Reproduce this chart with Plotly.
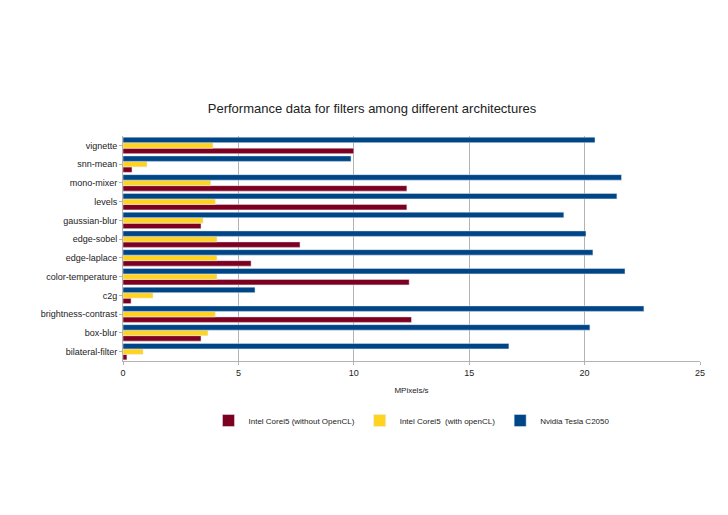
import plotly.graph_objects as go

filters = ["bilateral-filter", "box-blur", "brightness-contrast", "c2g", "color-temperature",
           "edge-laplace", "edge-sobel", "gaussian-blur", "levels", "mono-mixer", "snn-mean", "vignette"]
cpu_no_cl = [0.17, 3.38, 12.5, 0.35, 12.4, 5.55, 7.67, 3.38, 12.3, 12.3, 0.39, 10.0]
cpu_cl = [0.87, 3.68, 4.0, 1.3, 4.07, 4.07, 4.07, 3.47, 4.0, 3.8, 1.04, 3.9]
tesla = [16.72, 20.23, 22.57, 5.72, 21.75, 20.36, 20.06, 19.1, 21.4, 21.6, 9.88, 20.45]

fig = go.Figure()
fig.add_trace(go.Bar(y=filters, x=cpu_no_cl, orientation='h', name='Intel Corei5 (without OpenCL)', marker_color='#7e0021'))
fig.add_trace(go.Bar(y=filters, x=cpu_cl, orientation='h', name='Intel Corei5  (with openCL)', marker_color='#ffd320'))
fig.add_trace(go.Bar(y=filters, x=tesla, orientation='h', name='Nvidia Tesla C2050', marker_color='#004586'))

fig.update_layout(
    width=728, height=515,
    barmode='group', bargap=0.12, bargroupgap=0,
    plot_bgcolor='white', paper_bgcolor='white',
    font=dict(family='Liberation Sans', size=9, color='#222'),
    title=dict(text='Performance data for filters among different architectures', x=0.5, y=0.804,
               xanchor='center', yanchor='middle', font=dict(size=13)),
    margin=dict(l=115, r=36, t=128, b=162),
    xaxis=dict(range=[0, 25], dtick=5, showgrid=True, gridcolor='#b3b3b3', zeroline=False,
               showline=True, linecolor='#b3b3b3', ticks='outside', ticklen=3, tickcolor='#b3b3b3',
               title=dict(text='MPixels/s', font=dict(size=8), standoff=10)),
    yaxis=dict(showline=True, linecolor='#b3b3b3', ticks='outside', ticklen=3, tickcolor='#b3b3b3',
               automargin=False),
    legend=dict(orientation='h', x=0.5, xanchor='center', y=-0.2, yanchor='top', font=dict(size=8),
                itemwidth=30, entrywidth=0, tracegroupgap=0),
)
fig.write_html("out.html")
